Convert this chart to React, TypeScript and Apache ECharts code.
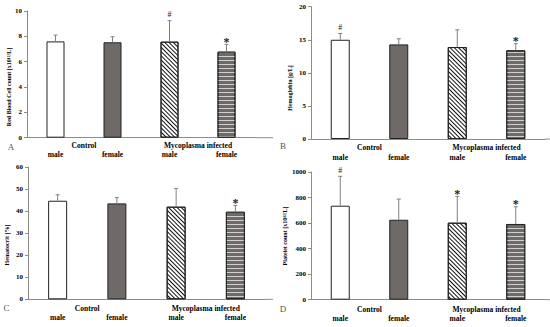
import React, { useEffect, useRef } from 'react';
import * as echarts from 'echarts';

const sexLabels = ['male', 'female', 'male', 'female'];
const groupLabels = ['Control', 'Mycoplasma infected'];

const rbcValues = [7.6, 7.53, 7.58, 6.79];
const rbcErrTop = [8.1, 7.97, 9.24, 7.37];
const rbcMarks = ['', '', '#', '*'];

const hbValues = [15.0, 14.3, 13.9, 13.4];
const hbErrTop = [15.95, 15.15, 16.5, 14.4];
const hbMarks = ['#', '', '', '*'];

const hctValues = [44.7, 43.5, 42.0, 39.7];
const hctErrTop = [47.4, 46.1, 50.3, 42.6];
const hctMarks = ['', '', '', '*'];

const pltValues = [736, 626, 603, 593];
const pltErrTop = [966, 788, 809, 728];
const pltMarks = ['#', '', '*', '*'];

const FONT = "'Liberation Serif', 'Times New Roman', serif";

const panels = [
  { letter: 'A', title: 'Red Blood Cell count [x10¹²/L]', values: rbcValues, errTop: rbcErrTop, marks: rbcMarks, max: 10, interval: 2,
    grid: { left: 27, top: 11, width: 228, height: 126.7 }, axisEnd: 273, margins: [4, 13], letterPos: [11, 146.5], titlePos: [9, 87], barWidth: 18 },
  { letter: 'B', title: 'Hemoglobin [g/L]', values: hbValues, errTop: hbErrTop, marks: hbMarks, max: 20, interval: 5,
    grid: { left: 311, top: 6.7, width: 234, height: 132.3 }, axisEnd: 550, margins: [4.5, 14], letterPos: [283, 146], titlePos: [290, 88], barWidth: 19 },
  { letter: 'C', title: 'Hematocrit [%]', values: hctValues, errTop: hctErrTop, marks: hctMarks, max: 60, interval: 10,
    grid: { left: 28, top: 167, width: 237, height: 132.3 }, axisEnd: 273, margins: [5.5, 14.5], letterPos: [6.5, 308], titlePos: [7, 245], barWidth: 19 },
  { letter: 'D', title: 'Platelet count [x10¹²/L]', values: pltValues, errTop: pltErrTop, marks: pltMarks, max: 1000, interval: 200,
    grid: { left: 311, top: 172, width: 234, height: 127.7 }, axisEnd: 550, margins: [5.5, 14.5], letterPos: [283, 308.5], titlePos: [285, 236], barWidth: 19 },
];

const barStyles = [
  { color: '#ffffff', borderColor: '#222', borderWidth: 1 },
  { color: '#6f6a68', borderColor: '#222', borderWidth: 1 },
  {
    color: '#ffffff', borderColor: '#222', borderWidth: 1,
    decal: { symbol: 'rect', symbolSize: 1, color: '#111111', backgroundColor: '#ffffff', dashArrayX: [1, 0], dashArrayY: [1, 1.4], rotation: Math.PI / 4 },
  },
  {
    color: '#6f6a68', borderColor: '#222', borderWidth: 1,
    decal: { symbol: 'rect', symbolSize: 1, color: 'rgba(240,240,240,0.75)', backgroundColor: '#6f6a68', dashArrayX: [1, 0], dashArrayY: [1, 2.5], rotation: 0 },
  },
];

export default function App() {
  const ref = useRef<HTMLDivElement>(null);
  useEffect(() => {
    if (!ref.current) return;
    const chart = echarts.init(ref.current, null, { renderer: 'svg' });
    const grid: any[] = [];
    const xAxis: any[] = [];
    const yAxis: any[] = [];
    const series: any[] = [];
    const graphic: any[] = [];
    panels.forEach((p, i) => {
      grid.push({ ...p.grid, containLabel: false });
      xAxis.push({
        type: 'category', gridIndex: i, data: sexLabels, position: 'bottom',
        axisLine: { show: true, lineStyle: { color: '#8c8c8c', width: 1 } },
        axisTick: { show: false },
        axisLabel: { margin: p.margins[1], fontFamily: FONT, fontWeight: 'bold', fontSize: 7.5, color: '#000' },
      });
      xAxis.push({
        type: 'category', gridIndex: i, data: groupLabels, position: 'bottom',
        axisLine: { show: false }, axisTick: { show: false },
        axisLabel: { margin: p.margins[0], fontFamily: FONT, fontWeight: 'bold', fontSize: 7.5, color: '#000' },
      });
      yAxis.push({
        type: 'value', gridIndex: i, min: 0, max: p.max, interval: p.interval,
        splitLine: { show: false },
        axisLine: { show: true, lineStyle: { color: '#8c8c8c', width: 1 } },
        axisTick: { show: true, length: 3, lineStyle: { color: '#8c8c8c' } },
        axisLabel: { margin: 5, fontFamily: FONT, fontWeight: 'bold', fontSize: 7, color: '#000', formatter: (v: number) => String(v) },
      });
      series.push({
        type: 'bar', xAxisIndex: 2 * i, yAxisIndex: i, barWidth: p.barWidth,
        data: p.values.map((v, k) => ({ value: v, itemStyle: barStyles[k] })),
      });
      const marks = p.marks;
      series.push({
        type: 'custom', xAxisIndex: 2 * i, yAxisIndex: i, z: 5,
        data: p.values.map((v, k) => [k, v, p.errTop[k]]),
        renderItem: (params: any, api: any) => {
          const k = api.value(0);
          const p0 = api.coord([k, api.value(1)]);
          const p1 = api.coord([k, api.value(2)]);
          const children: any[] = [
            { type: 'line', shape: { x1: p0[0], y1: p0[1], x2: p1[0], y2: p1[1] }, style: { stroke: '#808080', lineWidth: 1 } },
            { type: 'line', shape: { x1: p1[0] - 2, y1: p1[1], x2: p1[0] + 2, y2: p1[1] }, style: { stroke: '#808080', lineWidth: 1 } },
          ];
          const m = marks[k];
          if (m) {
            const star = m === '*';
            children.push({
              type: 'text', x: p1[0], y: star ? p1[1] + 3.5 : p1[1] - 2,
              style: { text: m, align: 'center', verticalAlign: 'bottom', font: star ? `bold 12px ${FONT}` : `8px ${FONT}`, fill: '#222' },
            });
          }
          return { type: 'group', children };
        },
      });
      const g = p.grid;
      const yb = g.top + g.height;
      graphic.push({ type: 'line', shape: { x1: g.left + g.width, y1: yb, x2: p.axisEnd, y2: yb }, style: { stroke: '#8c8c8c', lineWidth: 1 } });
      graphic.push({ type: 'text', x: p.letterPos[0], y: p.letterPos[1], style: { text: p.letter, align: 'center', verticalAlign: 'middle', font: `9px ${FONT}`, fill: '#555' } });
      graphic.push({ type: 'text', x: p.titlePos[0], y: p.titlePos[1], rotation: Math.PI / 2, style: { text: p.title, align: 'center', verticalAlign: 'middle', font: `bold 6px ${FONT}`, fill: '#000' } });
    });
    chart.setOption({ animation: false, backgroundColor: '#ffffff', grid, xAxis, yAxis, series, graphic });
    return () => chart.dispose();
  }, []);
  return <div ref={ref} style={{ position: 'absolute', left: 0, top: 0, width: 550, height: 327 }} />;
}
